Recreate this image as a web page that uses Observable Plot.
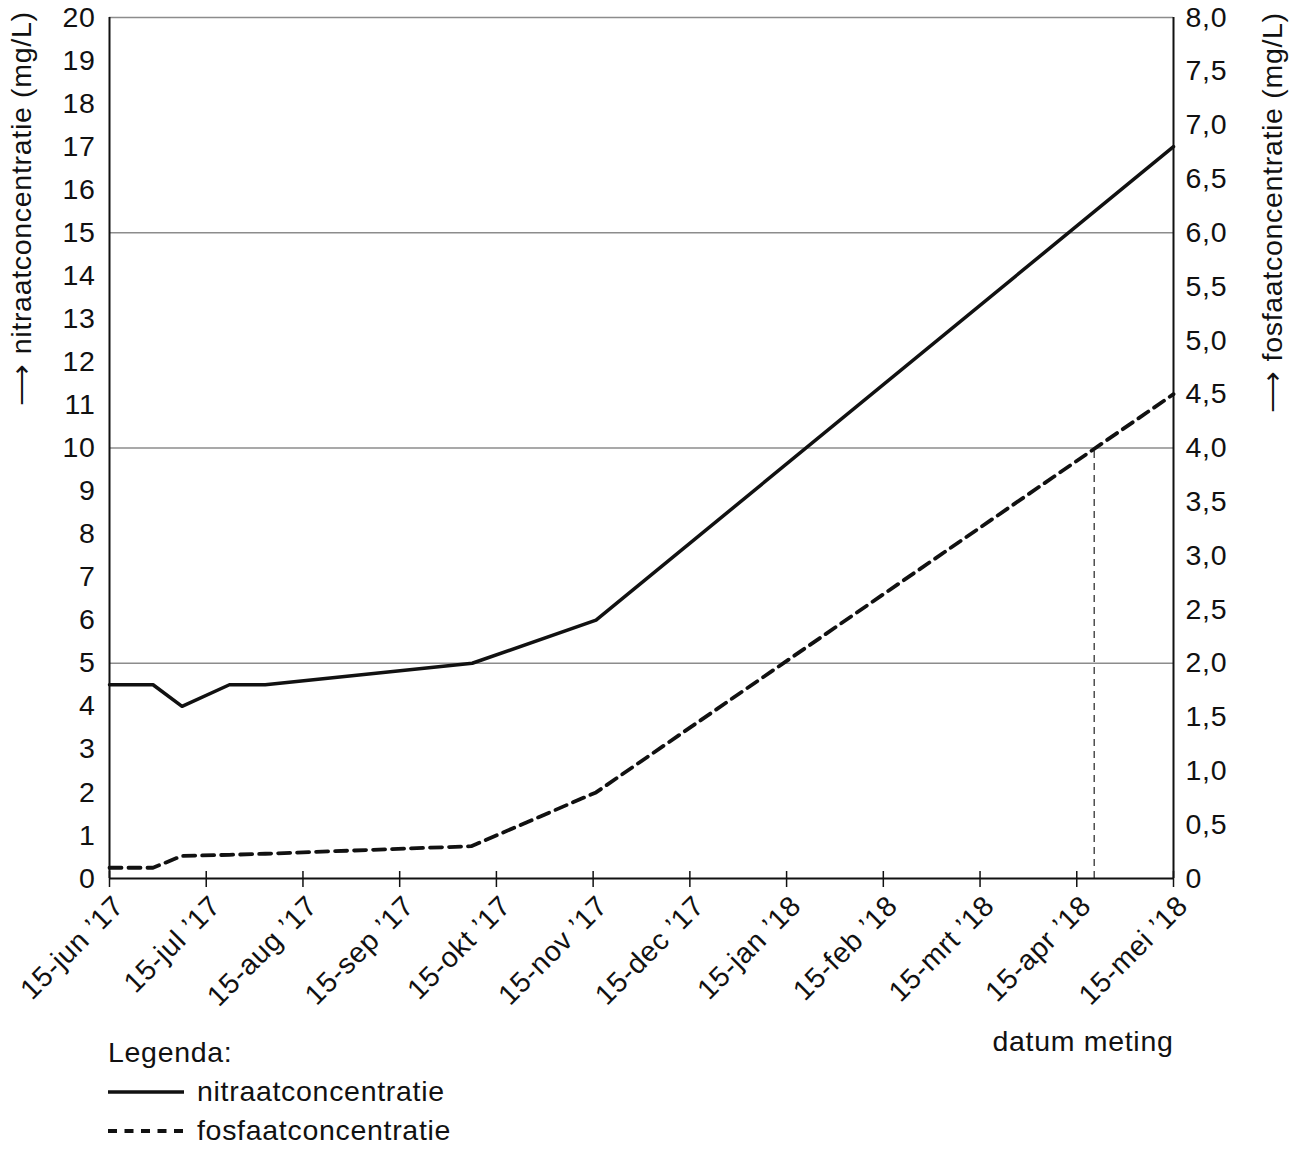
<!DOCTYPE html>
<html><head><meta charset="utf-8">
<script src="https://cdn.jsdelivr.net/npm/d3@7"></script>
<script src="https://cdn.jsdelivr.net/npm/@observablehq/plot@0.6"></script>
<style>
body{margin:0;background:#fff;font-family:"Liberation Sans",Arial,sans-serif;}
#wrap{position:relative;width:1295px;height:1153px;}
#legend{position:absolute;left:108px;top:1033px;font-size:28.5px;line-height:39px;color:#111;letter-spacing:0.7px;}
#legend .row{display:flex;align-items:center;height:39px;white-space:nowrap;}
#legend svg{flex:none;}
</style></head><body><div id="wrap"></div>
<script>
// x positions are months counted from 15-jun '17 (equal month spacing as in the figure)
const monthLabels = ["15-jun \u201917","15-jul \u201917","15-aug \u201917","15-sep \u201917","15-okt \u201917","15-nov \u201917","15-dec \u201917","15-jan \u201918","15-feb \u201918","15-mrt \u201918","15-apr \u201918","15-mei \u201918"];
const monthIdx = d3.range(12);

const nitraatMonth = [0, 0.45, 0.75, 1.24, 1.61, 3.75, 5.03, 11];
const nitraatValue = [4.5, 4.5, 4.0, 4.5, 4.5, 5.0, 6.0, 17.0];

const fosfaatMonth = [0, 0.45, 0.75, 1.24, 1.61, 3.74, 5.03, 11];
const fosfaatValue = [0.1, 0.1, 0.21, 0.22, 0.23, 0.3, 0.8, 4.5];

const leftTicks = d3.range(0, 21, 1);
const rightTicks = [0,0.5,1,1.5,2,2.5,3,3.5,4,4.5,5,5.5,6,6.5,7,7.5,8];
const gridValues = [5, 10, 15, 20];
const readMonth = 10.18, readValue = 4.0;   // dashed reading line (fosfaat)
const ratio = 20 / 8; // left axis max / right axis max

const nitraat = nitraatMonth.map((m, i) => ({m, v: nitraatValue[i]}));
const fosfaat = fosfaatMonth.map((m, i) => ({m, v: fosfaatValue[i]}));

const ink = "#111";
const chart = Plot.plot({
  width: 1295, height: 1065,
  marginLeft: 109, marginRight: 122, marginTop: 17, marginBottom: 187,
  x: {domain: [0, 11], axis: null},
  y: {domain: [0, 20]},
  style: {fontFamily: "Liberation Sans, Arial, sans-serif", fontSize: "28.5px", color: ink, background: "#fff", letterSpacing: "0.7px"},
  marks: [
    Plot.ruleY(gridValues, {stroke: "#8c8c8c", strokeWidth: 1.3}),
    Plot.ruleX([{m: readMonth, v: readValue}], {x: "m", y1: 0, y2: d => d.v * ratio, stroke: "#222", strokeWidth: 1.2, strokeDasharray: "7,5"}),
    Plot.line(nitraat, {x: "m", y: "v", stroke: ink, strokeWidth: 3.5}),
    Plot.line(fosfaat, {x: "m", y: d => d.v * ratio, stroke: ink, strokeWidth: 3.8, strokeDasharray: "12,7"}),
    Plot.ruleX([0, 11], {stroke: ink, strokeWidth: 2}),
    Plot.ruleY([0], {stroke: ink, strokeWidth: 2}),
    Plot.ruleX(monthIdx, {x: d => d, insetTop: 854, insetBottom: -9, stroke: ink, strokeWidth: 1.5}),
    Plot.axisY({anchor: "left", ticks: leftTicks, tickSize: 0, tickPadding: 14, label: null, tickFormat: d => String(d)}),
    Plot.axisY({anchor: "right", ticks: rightTicks.map(v => v * ratio), tickSize: 0, tickPadding: 12, label: null,
      tickFormat: v => { const p = v / ratio; return p === 0 ? "0" : p.toFixed(1).replace(".", ","); }}),
    Plot.text(monthIdx, {x: d => d, frameAnchor: "bottom", text: d => monthLabels[d], rotate: -45, textAnchor: "end", lineAnchor: "bottom", dx: 16, dy: 29, fill: ink}),
    Plot.text(["\u27F6 nitraatconcentratie (mg/L)"], {frameAnchor: "top-left", text: d => d, rotate: -90, textAnchor: "middle", lineAnchor: "middle", dx: -88, dy: 191, fill: ink}),
    Plot.text(["\u27F6 fosfaatconcentratie (mg/L)"], {frameAnchor: "top-right", text: d => d, rotate: -90, textAnchor: "middle", lineAnchor: "middle", dx: 99, dy: 195, fill: ink}),
    Plot.text(["datum meting"], {frameAnchor: "bottom-right", text: d => d, textAnchor: "end", lineAnchor: "bottom", dy: 172, fill: ink})
  ]
});
const wrap = document.getElementById("wrap");
wrap.appendChild(chart);

const legend = document.createElement("div");
legend.id = "legend";
legend.innerHTML = `
<div class="row">Legenda:</div>
<div class="row"><svg width="89" height="20"><line x1="0" x2="76" y1="10" y2="10" stroke="${ink}" stroke-width="3.5"/></svg>nitraatconcentratie</div>
<div class="row"><svg width="89" height="20"><line x1="0" x2="76" y1="10" y2="10" stroke="${ink}" stroke-width="4" stroke-dasharray="9,7.5"/></svg>fosfaatconcentratie</div>`;
wrap.appendChild(legend);
</script>
</body></html>
